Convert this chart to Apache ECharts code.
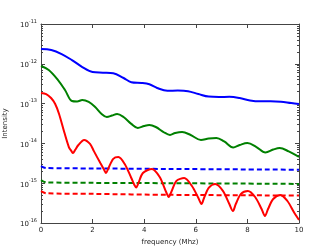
<!DOCTYPE html>
<html><head><meta charset="utf-8">
<script src="https://cdn.jsdelivr.net/npm/echarts@6/dist/echarts.min.js"></script>
<style>html,body{margin:0;padding:0;background:#fff}#c{width:332px;height:249px}</style>
</head><body><div id="c"></div>
<script>
// frequency (Mhz) and intensity values
const blueX = [0,0.4,0.8,1.2,1.6,2.0,2.4,2.8,3.2,3.5,3.9,4.2,4.5,4.9,5.3,5.7,6.1,6.5,6.9,7.3,7.7,8.1,8.5,8.9,9.3,9.7,10];
const blueY = [2.36e-12,2.22e-12,1.76e-12,1.24e-12,8.3e-13,6.2e-13,6.0e-13,5.8e-13,4.4e-13,3.45e-13,3.3e-13,3.05e-13,2.47e-13,2.1e-13,2.12e-13,2.05e-13,1.74e-13,1.5e-13,1.47e-13,1.48e-13,1.38e-13,1.2e-13,1.14e-13,1.15e-13,1.12e-13,1.03e-13,9.8e-14];

const greenX = [0,0.3,0.66,0.93,1.2,1.4,1.6,1.85,2.1,2.35,2.55,2.75,2.95,3.2,3.5,3.75,4.0,4.2,4.45,4.75,5.0,5.2,5.47,5.8,6.2,6.5,6.8,7.1,7.45,7.7,8.0,8.35,8.7,9.0,9.25,9.6,10];
const greenY = [8.8e-13,7.0e-13,3.9e-13,2.2e-13,1.16e-13,1.13e-13,1.23e-13,1.1e-13,8.2e-14,5.5e-14,4.6e-14,5.0e-14,5.5e-14,4.6e-14,3.1e-14,2.44e-14,2.74e-14,2.9e-14,2.58e-14,1.93e-14,1.63e-14,1.82e-14,1.93e-14,1.63e-14,1.22e-14,1.33e-14,1.37e-14,1.12e-14,7.9e-15,9.1e-15,1.02e-14,8.1e-15,5.9e-15,7.0e-15,7.7e-15,6.3e-15,4.55e-15];

const redX = [0,0.2,0.39,0.55,0.7,0.9,1.08,1.18,1.24,1.32,1.45,1.67,1.9,2.05,2.3,2.45,2.52,2.6,2.8,3.0,3.25,3.5,3.62,3.69,3.76,3.95,4.3,4.6,4.85,4.95,5.05,5.25,5.55,5.85,6.1,6.22,6.32,6.5,6.75,7.05,7.3,7.44,7.55,7.75,8.02,8.3,8.55,8.68,8.8,9.0,9.28,9.55,9.8,10];
const redY = [1.85e-13,1.74e-13,1.38e-13,9.8e-14,5.5e-14,1.93e-14,8.1e-15,6.4e-15,5.7e-15,6.8e-15,9.1e-15,1.22e-14,9.7e-15,6.4e-15,3.2e-15,2.15e-15,1.8e-15,2.28e-15,4.1e-15,4.55e-15,3.0e-15,1.35e-15,9.0e-16,7.8e-16,9.5e-16,1.8e-15,2.28e-15,1.43e-15,6.0e-16,4.5e-16,6.0e-16,1.14e-15,1.35e-15,8.5e-16,4.25e-16,3.0e-16,4.25e-16,7.6e-16,9.5e-16,6.4e-16,3.0e-16,2.0e-16,3.0e-16,5.4e-16,6.4e-16,4.5e-16,2.25e-16,1.5e-16,2.25e-16,4.0e-16,5.05e-16,3.57e-16,1.89e-16,1.19e-16];

const blueDashX = [0,0.2,2,5,10];
const blueDashY = [2.7e-15,2.4e-15,2.35e-15,2.28e-15,2.18e-15];
const greenDashX = [0,0.2,2,5,10];
const greenDashY = [1.2e-15,1.05e-15,1.02e-15,1.0e-15,9.6e-16];
const redDashX = [0,0.2,2,5,10];
const redDashY = [6.3e-16,5.6e-16,5.4e-16,5.1e-16,4.9e-16];

const xTicks = [0,2,4,6,8,10];
const yExpMin = -16, yExpMax = -11;

function pairs(xs, ys){ return xs.map((x,i)=>[x, ys[i]]); }

const chart = echarts.init(document.getElementById('c'), null, {renderer:'canvas'});
const axisCol = '#444';
const font = 'DejaVu Sans';
function solid(name, xs, ys, col, sm){
  return {name, type:'line', data:pairs(xs,ys), showSymbol:false, smooth:sm,
    lineStyle:{color:col, width:2}, itemStyle:{color:col}, z:3};
}
function dashed(name, xs, ys, col){
  return {name, type:'line', data:pairs(xs,ys), showSymbol:false, smooth:0.3,
    lineStyle:{color:col, width:2, type:[5,3]}, itemStyle:{color:col}, z:2};
}
const yBase = {
  type:'log', logBase:10, min:Math.pow(10,yExpMin), max:Math.pow(10,yExpMax),
  axisLine:{show:true, onZero:false, lineStyle:{color:axisCol, width:1}},
  axisTick:{show:true, inside:true, length:4, lineStyle:{color:axisCol}},
  minorTick:{show:true, splitNumber:9, length:2, lineStyle:{color:axisCol}},
  splitLine:{show:false}
};
const xBase = {
  type:'value', min:xTicks[0], max:xTicks[xTicks.length-1], interval:2,
  axisLine:{show:true, onZero:false, lineStyle:{color:axisCol, width:1}},
  axisTick:{show:true, inside:true, length:4, lineStyle:{color:axisCol}},
  splitLine:{show:false}
};
chart.setOption({
  animation:false,
  grid:{left:41, right:33, top:24, bottom:26, containLabel:false, outerBoundsMode:'none'},
  xAxis:[
    Object.assign({}, xBase, {position:'bottom',
      axisLabel:{show:true, fontSize:7, color:'#222', fontFamily:font, margin:4},
      name:'frequency (Mhz)', nameLocation:'middle', nameGap:14,
      nameTextStyle:{fontSize:7, color:'#222', fontFamily:font}}),
    Object.assign({}, xBase, {position:'top', axisLabel:{show:false}})
  ],
  yAxis:[
    Object.assign({}, yBase, {position:'left',
      axisLabel:{show:true, margin:4, fontFamily:font,
        formatter:function(v){ const e=Math.round(Math.log10(v)); return '{b|10}{s|'+e+'}'; },
        rich:{b:{fontSize:7, color:'#222', fontFamily:font, verticalAlign:'bottom', lineHeight:10},
              s:{fontSize:5, color:'#222', fontFamily:font, verticalAlign:'top', lineHeight:10}}},
      name:'Intensity', nameLocation:'middle', nameGap:24, nameRotate:90,
      nameTextStyle:{fontSize:7, color:'#222', fontFamily:font}}),
    Object.assign({}, yBase, {position:'right', axisLabel:{show:false}})
  ],
  series:[
    solid('blue', blueX, blueY, '#0000ff', 0.35),
    solid('green', greenX, greenY, '#008000', 0.35),
    solid('red', redX, redY, '#ff0000', 0.3),
    dashed('blueDash', blueDashX, blueDashY, '#0000ff'),
    dashed('greenDash', greenDashX, greenDashY, '#008000'),
    dashed('redDash', redDashX, redDashY, '#ff0000')
  ]
});
</script></body></html>
